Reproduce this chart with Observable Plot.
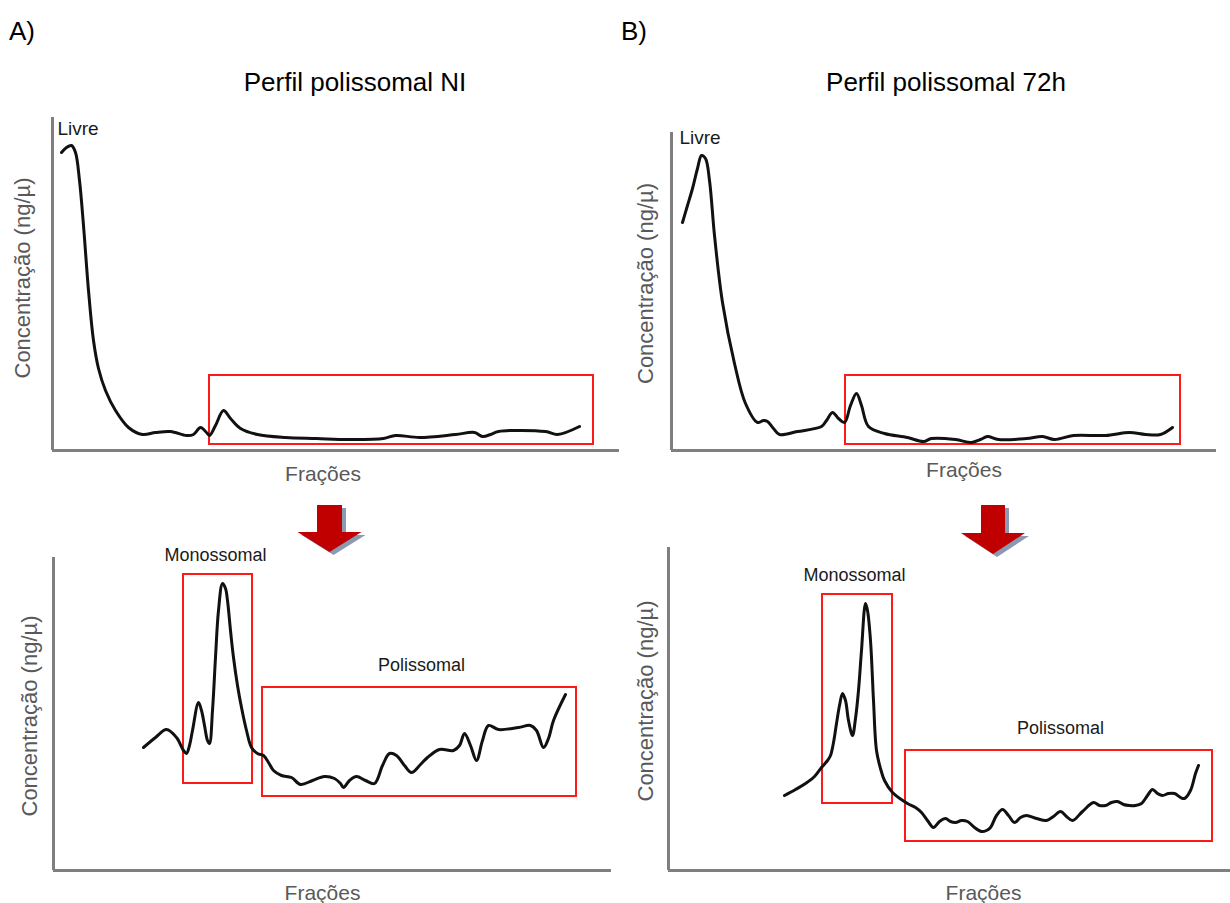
<!DOCTYPE html>
<html><head><meta charset="utf-8">
<script src="https://cdn.jsdelivr.net/npm/d3@7"></script>
<script src="https://cdn.jsdelivr.net/npm/@observablehq/plot@0.6"></script>
<style>
html,body{margin:0;padding:0;background:#fff}
body{width:1230px;height:903px;position:relative;overflow:hidden;font-family:"Liberation Sans",Arial,sans-serif}
.panel{position:absolute}
#overlay{position:absolute;left:0;top:0}
</style></head><body>
<div id="root"></div>
<script>
// ---------- data (arbitrary units) ----------
const panelTags = ["A)", "B)"];
const panelTitles = ["Perfil polissomal NI", "Perfil polissomal 72h"];
const yLabel = "Concentração (ng/µ)";
const xLabel = "Frações";

// A) top – full profile, NI
const niFullFrac = [9,14,19,23,27,31,36,41,46,53,63,76,90,103,118,134,141,148,154,157,163,171,178,188,205,233,264,296,331,343,367,403,422,430,438,446,493,505,527];
const niFullConc = [298,303,305,298,270,225,160,110,82,60,40,23,16,18,19,15,16,23,18,15,25,40,32,22,16,13,12,11,12,15,13,16,18,14,16,19,19,16,24];
const niFullBoxes = [{x1:157, x2:541, y1:6, y2:75}];
const niFullNotes = [{x:5, y:316, text:"Livre"}];

// B) top – full profile, 72h
const h72FullFrac = [11,16,21,26,30,34,38,43,51,63,74,86,92,96,102,108,126,150,155,161,167,173,179,185,190,197,213,236,252,260,284,300,309,316,327,355,371,383,402,434,458,474,489,501];
const h72FullConc = [228,245,262,282,295,292,270,215,148,87,47,28,30,29,22,16,19,24,30,38,32,28,45,57,45,24,17,13,9,12,11,8,11,14,11,12,14,11,15,15,18,16,16,23];
const h72FullBoxes = [{x1:174, x2:509, y1:6, y2:75}];
const h72FullNotes = [{x:8, y:307, text:"Livre"}];

// A) bottom – zoom on the boxed region, NI
const niZoomFrac = [90,102,113,123,130,133,136,139,145,148,151,154,156,159,162,165,169,172,174,177,180,184,188,193,198,204,210,215,220,228,238,247,259,271,281,287,290,296,303,312,321,329,336,343,351,358,367,374,386,400,406,411,417,423,429,435,445,465,477,483,490,495,500,512];
const niZoomConc = [123,133,141,133,120,117,125,140,168,160,145,130,127,160,213,260,287,282,270,240,213,185,163,140,123,117,115,108,100,95,93,86,90,94,92,87,83,90,94,90,87,105,117,115,105,98,106,113,121,120,125,137,125,110,130,145,141,143,145,140,123,132,150,176];
const niZoomBoxes = [{x1:130, x2:199, y1:87, y2:296}, {x1:209, x2:523, y1:74, y2:183}];
const niZoomNotes = [{x:162, y:315, text:"Monossomal"}, {x:368, y:205, text:"Polissomal"}];

// B) bottom – zoom on the boxed region, 72h
const h72ZoomFrac = [116,127,137,146,153,159,162,165,168,171,174,177,180,184,187,190,193,197,199,202,205,208,212,216,224,239,247,253,259,265,271,277,282,287,293,299,306,313,318,322,328,334,340,346,352,358,368,378,385,392,398,404,414,425,431,437,443,449,455,461,467,473,479,484,489,494,500,506,512,516,522,527,530];
const h72ZoomConc = [75,81,87,94,103,110,115,128,147,165,177,170,150,135,152,180,220,267,260,230,170,120,102,90,78,67,63,58,50,43,49,52,49,48,50,49,43,39,40,43,55,61,55,48,53,55,52,50,54,59,54,50,59,68,65,65,68,69,66,65,65,67,75,81,77,75,77,77,73,72,80,97,105];
const h72ZoomBoxes = [{x1:154, x2:224, y1:67, y2:276}, {x1:237, x2:544, y1:29, y2:120}];
const h72ZoomNotes = [{x:186, y:295, text:"Monossomal"}, {x:392, y:142, text:"Polissomal"}];

// ---------- drawing ----------
const root = document.getElementById("root");
const FONT = '"Liberation Sans", Arial, sans-serif';

function panel(cfg) {
  const data = cfg.frac.map((x, i) => ({x, y: cfg.conc[i]}));
  const svg = Plot.plot({
    width: cfg.width, height: cfg.height,
    marginLeft: cfg.ml, marginRight: cfg.mr, marginTop: cfg.mt, marginBottom: cfg.mb,
    x: {domain: cfg.xDomain, axis: null},
    y: {domain: cfg.yDomain, axis: null},
    style: {fontFamily: FONT, background: "transparent", overflow: "visible"},
    marks: [
      Plot.ruleY([0], {stroke: "#7f7f7f", strokeWidth: 3}),
      Plot.ruleX([0], {stroke: "#7f7f7f", strokeWidth: 3}),
      Plot.rect(cfg.boxes, {x1: "x1", x2: "x2", y1: "y1", y2: "y2", fill: "none", stroke: "#ff1a1a", strokeWidth: 2}),
      Plot.line(data, {x: "x", y: "y", curve: "catmull-rom", stroke: "#111", strokeWidth: 3, strokeLinecap: "round", strokeLinejoin: "round"}),
      Plot.text(cfg.notes, {x: "x", y: "y", text: "text", fontSize: cfg.noteSize, fill: "#1a1a1a",
        textAnchor: cfg.noteAnchor, lineAnchor: cfg.noteLine}),
      Plot.text([yLabel], {frameAnchor: "left", rotate: -90, dx: cfg.ydx, dy: cfg.ydy, fontSize: 22, fill: "#595959",
        textAnchor: "middle", lineAnchor: "middle"}),
      Plot.text([xLabel], {frameAnchor: "bottom", dx: cfg.xdx, dy: cfg.xdy, fontSize: 21, fill: "#595959",
        textAnchor: "middle", lineAnchor: "middle"})
    ]
  });
  svg.classList.add("panel");
  svg.style.left = cfg.left + "px";
  svg.style.top = cfg.top + "px";
  root.appendChild(svg);
}

panel({frac: niFullFrac, conc: niFullConc, boxes: niFullBoxes, notes: niFullNotes,
  noteSize: 19, noteAnchor: "start", noteLine: "bottom",
  left: 0, top: 100, width: 620, height: 400, ml: 52, mr: 1, mt: 17, mb: 50,
  xDomain: [0, 567], yDomain: [0, 333], ydx: -30, ydy: -6, xdx: -13, xdy: 24});

panel({frac: h72FullFrac, conc: h72FullConc, boxes: h72FullBoxes, notes: h72FullNotes,
  noteSize: 19, noteAnchor: "start", noteLine: "bottom",
  left: 615, top: 100, width: 615, height: 400, ml: 56, mr: 14, mt: 32, mb: 50,
  xDomain: [0, 545], yDomain: [0, 318], ydx: -26, ydy: -8, xdx: 20, xdy: 20});

panel({frac: niZoomFrac, conc: niZoomConc, boxes: niZoomBoxes, notes: niZoomNotes,
  noteSize: 18, noteAnchor: "middle", noteLine: "middle",
  left: 0, top: 500, width: 620, height: 403, ml: 53, mr: 9, mt: 57, mb: 33,
  xDomain: [0, 558], yDomain: [0, 313], ydx: -24, ydy: 2, xdx: -10, xdy: 23});

panel({frac: h72ZoomFrac, conc: h72ZoomConc, boxes: h72ZoomBoxes, notes: h72ZoomNotes,
  noteSize: 18, noteAnchor: "middle", noteLine: "middle",
  left: 615, top: 500, width: 615, height: 403, ml: 53, mr: 0, mt: 47, mb: 33,
  xDomain: [0, 562], yDomain: [0, 323], ydx: -23, ydy: -8, xdx: 34, xdy: 23});

// ---------- tags, titles and arrows ----------
const ns = "http://www.w3.org/2000/svg";
const ov = document.createElementNS(ns, "svg");
ov.setAttribute("id", "overlay");
ov.setAttribute("width", 1230);
ov.setAttribute("height", 903);
ov.style.pointerEvents = "none";
function txt(x, y, s, size, anchor) {
  const t = document.createElementNS(ns, "text");
  t.setAttribute("x", x); t.setAttribute("y", y);
  t.setAttribute("font-size", size);
  t.setAttribute("font-family", FONT);
  t.setAttribute("text-anchor", anchor);
  t.setAttribute("fill", "#000");
  t.textContent = s;
  ov.appendChild(t);
}
txt(9, 40, panelTags[0], 26, "start");
txt(621, 40, panelTags[1], 26, "start");
txt(355, 91, panelTitles[0], 26, "middle");
txt(946, 91, panelTitles[1], 26, "middle");

function arrow(cx, top, neck, tip, bodyHalf, headHalf) {
  const pts = (dx, dy) => [
    [cx - bodyHalf, top], [cx + bodyHalf, top], [cx + bodyHalf, neck], [cx + headHalf, neck],
    [cx, tip], [cx - headHalf, neck], [cx - bodyHalf, neck]
  ].map(([x, y]) => (x + dx) + "," + (y + dy)).join(" ");
  const sh = document.createElementNS(ns, "polygon");
  sh.setAttribute("points", pts(4, 3));
  sh.setAttribute("fill", "#8a9ab3");
  ov.appendChild(sh);
  const p = document.createElementNS(ns, "polygon");
  p.setAttribute("points", pts(0, 0));
  p.setAttribute("fill", "#c00000");
  ov.appendChild(p);
}
arrow(329.5, 505, 532, 552, 12.5, 32);
arrow(993, 505, 533, 554, 12, 32);

document.body.appendChild(ov);
</script>
</body></html>
